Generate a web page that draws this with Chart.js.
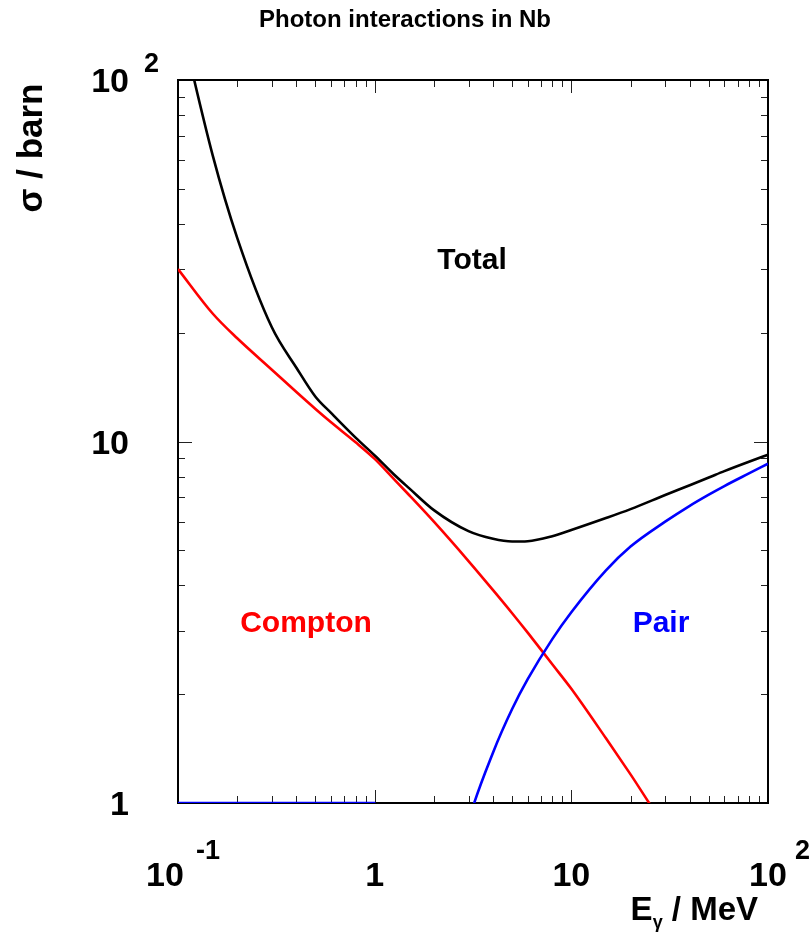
<!DOCTYPE html>
<html>
<head>
<meta charset="utf-8">
<title>Photon interactions in Nb</title>
<script src="https://cdn.jsdelivr.net/npm/chart.js@4.4.1/dist/chart.umd.min.js"></script>
<style>
  html, body { margin: 0; padding: 0; background: #fff; }
  canvas { display: block; }
</style>
</head>
<body>
<canvas id="xsChart" width="811" height="939"></canvas>
<script>
// photon energy grid (MeV) and cross sections (barn)
const energy = [0.1, 0.15, 0.2, 0.3, 0.4, 0.5, 0.6, 0.8, 1, 1.25, 1.5, 2, 3, 4, 5, 6, 8, 10, 15, 20, 30, 40, 50, 60, 80, 100];
const totalXs = [155, 62.0, 36.6, 20.7, 16.0, 13.3, 12.0, 10.25, 9.15, 8.12, 7.42, 6.46, 5.65, 5.38, 5.29, 5.30, 5.47, 5.69, 6.14, 6.50, 7.11, 7.57, 7.95, 8.28, 8.79, 9.19];
const comptonXs = [30.0, 22.6, 19.3, 15.8, 13.7, 12.3, 11.3, 9.95, 8.95, 7.88, 7.10, 6.0, 4.67, 3.88, 3.35, 2.96, 2.42, 2.07, 1.51, 1.20, 0.86, 0.71, 0.61, 0.54, 0.44, 0.37];
// below threshold the pair curve sits on the lower frame edge, as in the original
const pairXs = [1, 1, 1, 1, 1, 1, 1, 1, 1, 0.03, 0.12, 0.35, 0.89, 1.38, 1.82, 2.20, 2.84, 3.37, 4.4, 5.12, 6.0, 6.64, 7.13, 7.53, 8.16, 8.68];

const xTickValues = [0.1, 1, 10, 100];
const xTickLabels = [['10', '-1'], ['1', ''], ['10', ''], ['10', '2']];
const yTickValues = [1, 10, 100];
const yTickLabels = [['1', ''], ['10', ''], ['10', '2']];

function toPoints(ys) {
  return energy.map((e, i) => ({ x: e, y: ys[i] }));
}

const FONT = '"Liberation Sans", Arial, Helvetica, sans-serif';

// ROOT style frame: ticks inside on all four sides
const framePlugin = {
  id: 'rootFrame',
  beforeDatasetsDraw(chart) {
    const ctx = chart.ctx, a = chart.chartArea;
    const xs = chart.scales.x, ys = chart.scales.y;
    ctx.save();
    ctx.strokeStyle = '#222';
    ctx.lineWidth = 1;
    ctx.beginPath();
    for (let d = 0.1; d < 100; d *= 10) {
      for (let k = 1; k <= 9; k++) {
        const px = Math.round(xs.getPixelForValue(k * d)) + 0.5;
        const len = k === 1 ? 13 : 7;
        ctx.moveTo(px, a.bottom); ctx.lineTo(px, a.bottom - len);
        ctx.moveTo(px, a.top); ctx.lineTo(px, a.top + len);
      }
    }
    for (let d = 1; d < 100; d *= 10) {
      for (let k = 1; k <= 9; k++) {
        const py = Math.round(ys.getPixelForValue(k * d)) + 0.5;
        const len = k === 1 ? 14 : 7;
        ctx.moveTo(a.left, py); ctx.lineTo(a.left + len, py);
        ctx.moveTo(a.right, py); ctx.lineTo(a.right - len, py);
      }
    }
    ctx.stroke();
    ctx.strokeStyle = '#000';
    ctx.lineWidth = 2;
    ctx.strokeRect(a.left, a.top, a.right - a.left, a.bottom - a.top);
    ctx.restore();
  },
  afterDraw(chart) {
    const ctx = chart.ctx, a = chart.chartArea;
    const xs = chart.scales.x, ys = chart.scales.y;
    ctx.save();
    ctx.fillStyle = '#000';
    ctx.textBaseline = 'alphabetic';

    // x tick labels
    xTickValues.forEach((v, i) => {
      const [base, sup] = xTickLabels[i];
      let px = xs.getPixelForValue(v);
      if (i === 0) px -= 13;
      ctx.font = 'bold 34px ' + FONT;
      ctx.textAlign = 'center';
      ctx.fillText(base, px, a.bottom + 83);
      if (sup) {
        const w = ctx.measureText(base).width;
        ctx.font = 'bold 27px ' + FONT;
        ctx.textAlign = 'left';
        ctx.fillText(sup, px + w / 2 + (i === 0 ? 12 : 8), a.bottom + 56);
      }
    });

    // y tick labels
    yTickValues.forEach((v, i) => {
      const [base, sup] = yTickLabels[i];
      const py = ys.getPixelForValue(v);
      ctx.font = 'bold 34px ' + FONT;
      ctx.textAlign = 'right';
      ctx.fillText(base, a.left - 49, py + 12);
      if (sup) {
        ctx.font = 'bold 27px ' + FONT;
        ctx.textAlign = 'left';
        ctx.fillText(sup, a.left - 34, py - 8);
      }
    });

    // title
    ctx.font = 'bold 24px ' + FONT;
    ctx.textAlign = 'center';
    ctx.fillText('Photon interactions in Nb', 405, 27);

    // y axis title
    ctx.save();
    ctx.translate(42, 148);
    ctx.rotate(-Math.PI / 2);
    ctx.font = 'bold 35px ' + FONT;
    ctx.textAlign = 'center';
    ctx.fillText('\u03c3 / barn', 0, 0);
    ctx.restore();

    // x axis title: E_gamma / MeV, right aligned to the frame
    ctx.font = 'bold 33px ' + FONT;
    const wE = ctx.measureText('E').width;
    const wRest = ctx.measureText(' / MeV').width;
    ctx.font = 'bold 18px ' + FONT;
    const wG = ctx.measureText('\u03b3').width;
    let x0 = a.right - 10 - wE - wG - wRest;
    ctx.textAlign = 'left';
    ctx.font = 'bold 33px ' + FONT;
    ctx.fillText('E', x0, 920);
    ctx.font = 'bold 18px ' + FONT;
    ctx.fillText('\u03b3', x0 + wE, 928);
    ctx.font = 'bold 33px ' + FONT;
    ctx.fillText(' / MeV', x0 + wE + wG, 920);

    // curve annotations
    ctx.font = 'bold 30px ' + FONT;
    ctx.textAlign = 'center';
    ctx.fillStyle = '#000';
    ctx.fillText('Total', 472, 269);
    ctx.fillStyle = '#ff0000';
    ctx.fillText('Compton', 306, 632);
    ctx.fillStyle = '#0000ff';
    ctx.fillText('Pair', 661, 632);
    ctx.restore();
  }
};

const ctx = document.getElementById('xsChart').getContext('2d');
const xsChart = new Chart(ctx, {
  type: 'line',
  data: {
    datasets: [
      { label: 'Pair', data: toPoints(pairXs), borderColor: '#0000ff' },
      { label: 'Compton', data: toPoints(comptonXs), borderColor: '#ff0000' },
      { label: 'Total', data: toPoints(totalXs), borderColor: '#000000' }
    ]
  },
  options: {
    responsive: false,
    animation: false,
    devicePixelRatio: 1,
    parsing: false,
    layout: { padding: { left: 178, top: 80, right: 43, bottom: 136 } },
    elements: {
      line: { borderWidth: 2.6, cubicInterpolationMode: 'monotone', fill: false },
      point: { radius: 0, hoverRadius: 0 }
    },
    scales: {
      x: { type: 'logarithmic', min: 0.1, max: 100, display: false },
      y: { type: 'logarithmic', min: 1, max: 100, display: false }
    },
    plugins: {
      legend: { display: false },
      tooltip: { enabled: false }
    }
  },
  plugins: [framePlugin]
});
</script>
</body>
</html>
